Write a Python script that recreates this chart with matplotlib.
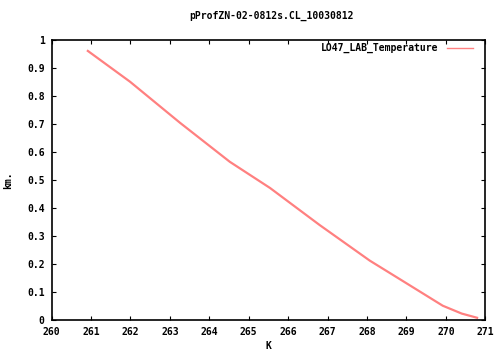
import matplotlib
matplotlib.use("Agg")
import matplotlib.pyplot as plt

title = "pProfZN-02-0812s.CL_10030812"
series_label = "LO47_LAB_Temperature"
x_vals = [260.92, 261.99, 263.26, 264.52, 265.54, 266.80, 268.07, 268.91, 269.92, 270.40, 270.79]
y_vals = [0.962, 0.852, 0.705, 0.566, 0.4725, 0.340, 0.213, 0.140, 0.052, 0.024, 0.009]
x_ticks = list(range(260, 272))
y_ticks = [0, 0.1, 0.2, 0.3, 0.4, 0.5, 0.6, 0.7, 0.8, 0.9, 1]
y_tick_labels = ["0", "0.1", "0.2", "0.3", "0.4", "0.5", "0.6", "0.7", "0.8", "0.9", "1"]

font = dict(family="DejaVu Sans Mono", weight="bold", size=7)

fig = plt.figure(figsize=(5.04, 3.5), dpi=100)
ax = fig.add_axes([0.1023, 0.0849, 0.8607, 0.80])
ax.plot(x_vals, y_vals, color="#ff8080", lw=1.6)
ax.set_xlim(260, 271)
ax.set_ylim(0, 1)
ax.set_xticks(x_ticks)
ax.set_xticklabels([str(t) for t in x_ticks], **font)
ax.set_yticks(y_ticks)
ax.set_yticklabels(y_tick_labels, **font)
ax.tick_params(direction="in", top=True, right=True, length=3, width=0.8, pad=5)
for s in ax.spines.values():
    s.set_linewidth(1.2)
fig.text(0.539, 0.955, title, ha="center", va="center", **font)
ax.set_xlabel("K", labelpad=3, **font)
ax.set_ylabel("km.", labelpad=10, **font)
leg = ax.legend([series_label], loc="upper right", bbox_to_anchor=(0.9714, 0.99), frameon=False,
                prop=dict(family="DejaVu Sans Mono", weight="bold", size=7),
                handlelength=2.7, handletextpad=0.9, borderaxespad=0, borderpad=0,
                markerfirst=False)
leg.get_lines()[0].set_linewidth(1.0)
fig.savefig("out.png", dpi=100)
